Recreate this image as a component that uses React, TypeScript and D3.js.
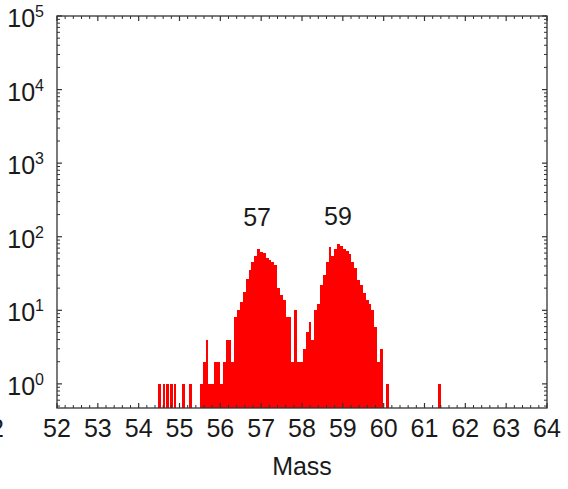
import React from "react";
import * as d3 from "d3";

// ---- data ----
// isolated single-count events at low/high mass
const isolatedMasses = [54.52, 54.62, 54.7, 54.8, 54.89, 55.09, 55.27, 61.36];
const isolatedCounts = [1, 1, 1, 1, 1, 1, 1, 1];
// contiguous histogram from 55.50 in bins of 0.07 u
const histStart = 55.5;
const binWidth = 0.07;
const histCounts = [
  1, 2, 4, 1, 1, 2, 2, 1, 2, 4, 4, 2, 8, 10, 13, 18, 27, 35, 45, 55, 68, 62, 60,
  52, 48, 45, 41, 20, 16, 14, 8, 8, 2, 10, 2, 2, 3, 5, 7, 4, 10, 12, 22, 30, 45,
  73, 55, 68, 80, 75, 68, 64, 58, 45, 37, 26, 22, 17, 14, 12, 10, 6, 2, 3, 0, 1,
];
const peakLabels = ["57", "59"];
const peakLabelMass = [56.9, 58.88];
const peakLabelValue = [140, 145];
const xTicks = [52, 53, 54, 55, 56, 57, 58, 59, 60, 61, 62, 63, 64];
const yExponents = [0, 1, 2, 3, 4, 5];

const W = 568;
const H = 489;
const FONT = "'Liberation Sans', Arial, Helvetica, sans-serif";

export default function App() {
  const x = d3.scaleLinear().domain([52, 64]).range([57, 547]);
  const y = d3.scaleLog().domain([0.47, 1e5]).range([408, 16]);
  const [x0, x1] = x.range();
  const [yb, yt] = y.range();

  const bars: { m0: number; m1: number; c: number }[] = [];
  histCounts.forEach((c, i) => {
    if (c > 0) bars.push({ m0: histStart + i * binWidth, m1: histStart + (i + 1) * binWidth, c });
  });
  isolatedMasses.forEach((m, i) => {
    bars.push({ m0: m - binWidth / 2, m1: m + binWidth / 2, c: isolatedCounts[i] });
  });

  const xMinor = d3.range(52, 64.001, 0.2).filter((v) => Math.abs(v - Math.round(v)) > 1e-6);
  const yMinor: number[] = [];
  for (let k = -1; k <= 4; k++) for (let dd = 2; dd <= 9; dd++) {
    const v = dd * Math.pow(10, k);
    if (v >= 0.47 && v <= 1e5) yMinor.push(v);
  }

  const axisColor = "#333";
  const major = 5;
  const minor = 3;

  return (
    <svg width={W} height={H} style={{ position: "absolute", left: 0, top: 0, background: "#fff" }}
      fontFamily={FONT}>
      <rect x={0} y={0} width={W} height={H} fill="#fff" />
      {/* bars */}
      <g shapeRendering="crispEdges">
        {bars.map((b, i) => (
          <rect key={i} x={x(b.m0)} width={x(b.m1) - x(b.m0)} y={y(b.c)} height={yb - y(b.c)} fill="#ff0000" />
        ))}
      </g>
      {/* frame */}
      <rect x={x0} y={yt} width={x1 - x0} height={yb - yt} fill="none" stroke={axisColor} strokeWidth={1.3} />
      {/* x ticks (bottom & top, inward) */}
      {xTicks.map((t) => (
        <g key={"xt" + t}>
          <line x1={x(t)} x2={x(t)} y1={yb} y2={yb - major} stroke={axisColor} strokeWidth={1.2} />
          <line x1={x(t)} x2={x(t)} y1={yt} y2={yt + major} stroke={axisColor} strokeWidth={1.2} />
          <text x={x(t)} y={437} textAnchor="middle" fontSize={25} fill="#1a1a1a">{t}</text>
        </g>
      ))}
      {xMinor.map((t, i) => (
        <g key={"xm" + i}>
          <line x1={x(t)} x2={x(t)} y1={yb} y2={yb - minor} stroke={axisColor} strokeWidth={1} />
          <line x1={x(t)} x2={x(t)} y1={yt} y2={yt + minor} stroke={axisColor} strokeWidth={1} />
        </g>
      ))}
      {/* y ticks (left & right, inward) */}
      {yExponents.map((e) => {
        const v = Math.pow(10, e);
        return (
          <g key={"yt" + e}>
            <line x1={x0} x2={x0 + major} y1={y(v)} y2={y(v)} stroke={axisColor} strokeWidth={1.2} />
            <line x1={x1} x2={x1 - major} y1={y(v)} y2={y(v)} stroke={axisColor} strokeWidth={1.2} />
            <text x={44} y={y(v) + 11} textAnchor="end" fontSize={25} fill="#1a1a1a">
              <tspan>10</tspan>
              <tspan dy={-10} fontSize={16}>{e}</tspan>
            </text>
          </g>
        );
      })}
      {yMinor.map((v, i) => (
        <g key={"ym" + i}>
          <line x1={x0} x2={x0 + minor} y1={y(v)} y2={y(v)} stroke={axisColor} strokeWidth={1} />
          <line x1={x1} x2={x1 - minor} y1={y(v)} y2={y(v)} stroke={axisColor} strokeWidth={1} />
        </g>
      ))}
      {/* peak labels */}
      {peakLabels.map((l, i) => (
        <text key={l} x={x(peakLabelMass[i])} y={y(peakLabelValue[i])} textAnchor="middle" fontSize={25} fill="#1a1a1a">
          {l}
        </text>
      ))}
      {/* axis title */}
      <text x={(x0 + x1) / 2} y={475} textAnchor="middle" fontSize={25} fill="#1a1a1a">Mass</text>
      {/* cropped fragment at the left edge in the source */}
      <text x={4} y={437} textAnchor="end" fontSize={25} fill="#1a1a1a">2</text>
    </svg>
  );
}
